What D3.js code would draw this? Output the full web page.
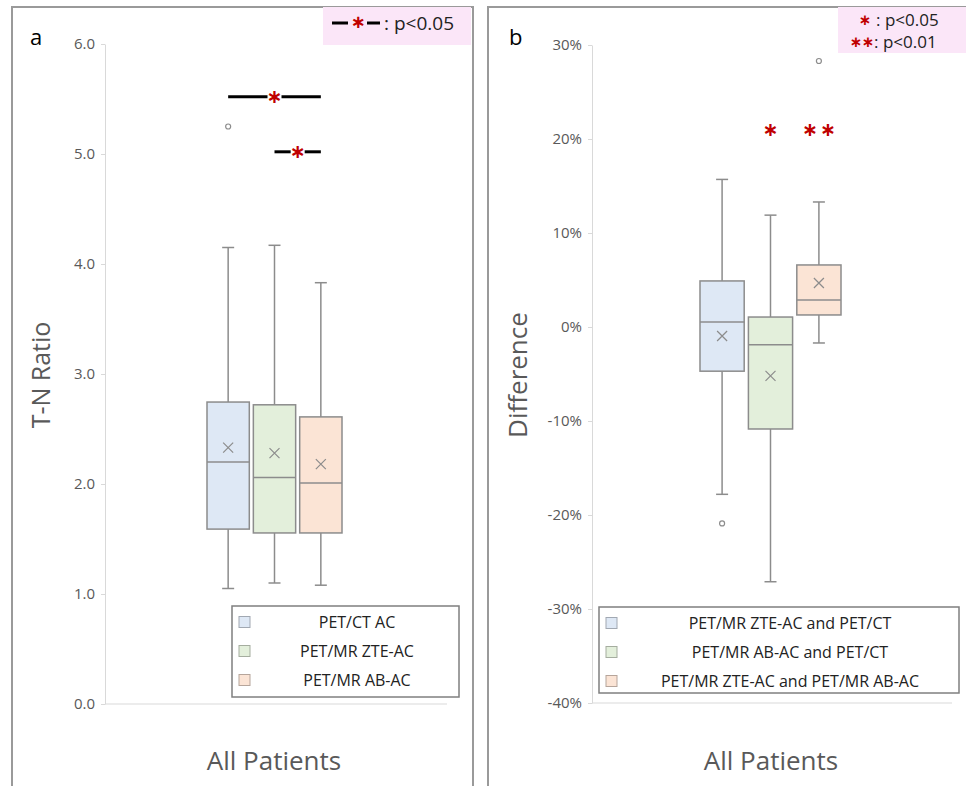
<!DOCTYPE html>
<html>
<head>
<meta charset="utf-8">
<script src="https://cdn.jsdelivr.net/npm/d3@7"></script>
<style>
  body { margin: 0; background: #fff; }
  svg { display: block; font-family: "Open Sans", sans-serif; }
</style>
</head>
<body>
<svg id="chart" width="966" height="786"></svg>
<script>
// panel a : T-N ratio
const groupsA = ["PET/CT AC", "PET/MR ZTE-AC", "PET/MR AB-AC"];
const tnMin = [1.05, 1.10, 1.08];
const tnQ1 = [1.59, 1.555, 1.555];
const tnMedian = [2.20, 2.06, 2.01];
const tnQ3 = [2.745, 2.72, 2.61];
const tnMax = [4.15, 4.17, 3.83];
const tnMean = [2.33, 2.28, 2.18];
const tnOutliers = [[5.25], [], []];
const tnTicks = [0, 1, 2, 3, 4, 5, 6];
const tnSig = [{ from: 0, to: 2, y: 5.52 }, { from: 1, to: 2, y: 5.02 }];

// panel b : difference (%)
const groupsB = ["PET/MR ZTE-AC and PET/CT", "PET/MR AB-AC and PET/CT", "PET/MR ZTE-AC and PET/MR AB-AC"];
const diffMin = [-17.8, -27.1, -1.7];
const diffQ1 = [-4.7, -10.85, 1.28];
const diffMedian = [0.53, -1.9, 2.87];
const diffQ3 = [4.9, 1.06, 6.6];
const diffMax = [15.7, 11.9, 13.3];
const diffMean = [-0.96, -5.2, 4.68];
const diffOutliers = [[-20.9], [], [28.3]];
const diffTicks = [-40, -30, -20, -10, 0, 10, 20, 30];
const diffSig = [{ group: 1, stars: 1, y: 20.9 }, { group: 2, stars: 2, y: 20.9 }];

const fills = ["#dee8f5", "#e3efdb", "#fbe4d5"];
const grey = "#8c8c8c";
const red = "#c00000";
const svg = d3.select("#chart");

function star(g, x, y, size) {
    g.append("text")
        .attr("x", x).attr("y", y + size * 0.3)
        .attr("text-anchor", "middle")
        .attr("font-family", "DejaVu Sans")
        .attr("font-weight", "bold")
        .attr("font-size", size)
        .attr("fill", red)
        .text("\u2217");
}

function drawPanel(p) {
    const g = svg.append("g");

    g.append("rect")
        .attr("x", p.frame[0]).attr("y", 7)
        .attr("width", p.frame[1] - p.frame[0]).attr("height", 790)
        .attr("fill", "none").attr("stroke", "#9a9a9a").attr("stroke-width", 2);

    const y = d3.scaleLinear().domain(p.domain).range([p.yBottom, p.yTop]);
    const x = d3.scaleBand().domain(p.groups).range(p.xRange).paddingInner(0.087);
    const cx = i => x(p.groups[i]) + x.bandwidth() / 2;

    const axis = g.append("g")
        .attr("transform", `translate(${p.axisX},0)`)
        .call(d3.axisLeft(y).tickValues(p.ticks).tickFormat(p.fmt).tickSize(4).tickSizeOuter(0).tickPadding(6));
    axis.select(".domain").attr("stroke", "#d9d9d9");
    axis.selectAll(".tick line").attr("stroke", "#d9d9d9");
    axis.selectAll(".tick text")
        .attr("fill", "#595959")
        .attr("font-family", "Open Sans")
        .attr("font-size", 15);

    g.append("line")
        .attr("x1", p.axisX).attr("x2", p.axisEnd)
        .attr("y1", y(p.domain[0])).attr("y2", y(p.domain[0]))
        .attr("stroke", "#d9d9d9");

    // boxes
    p.groups.forEach((name, i) => {
        const bx = x(name), bw = x.bandwidth(), c = cx(i);
        const box = g.append("g").attr("stroke", grey).attr("stroke-width", 1.5);
        box.append("line").attr("x1", c).attr("x2", c).attr("y1", y(p.max[i])).attr("y2", y(p.q3[i]));
        box.append("line").attr("x1", c).attr("x2", c).attr("y1", y(p.q1[i])).attr("y2", y(p.min[i]));
        box.append("line").attr("x1", c - 6).attr("x2", c + 6).attr("y1", y(p.max[i])).attr("y2", y(p.max[i]));
        box.append("line").attr("x1", c - 6).attr("x2", c + 6).attr("y1", y(p.min[i])).attr("y2", y(p.min[i]));
        box.append("rect")
            .attr("x", bx).attr("y", y(p.q3[i]))
            .attr("width", bw).attr("height", y(p.q1[i]) - y(p.q3[i]))
            .attr("fill", fills[i]);
        box.append("line").attr("x1", bx).attr("x2", bx + bw).attr("y1", y(p.median[i])).attr("y2", y(p.median[i]));
        const my = y(p.mean[i]);
        box.append("path")
            .attr("d", `M${c - 5},${my - 5}L${c + 5},${my + 5}M${c - 5},${my + 5}L${c + 5},${my - 5}`)
            .attr("stroke-width", 1.2);
        p.outliers[i].forEach(v => {
            box.append("circle").attr("cx", c).attr("cy", y(v)).attr("r", 2.5)
                .attr("fill", "#fff").attr("stroke-width", 1.2);
        });
    });

    // legend inside the plot
    const lg = g.append("g");
    lg.append("rect")
        .attr("x", p.legend.x).attr("y", p.legend.y)
        .attr("width", p.legend.w).attr("height", p.legend.h)
        .attr("fill", "#fff").attr("stroke", "#7f7f7f").attr("stroke-width", 1.5);
    p.groups.forEach((name, i) => {
        const ry = p.legend.y + 16 + i * 29;
        lg.append("rect")
            .attr("x", p.legend.x + 7).attr("y", ry - 5.5)
            .attr("width", 11).attr("height", 11)
            .attr("fill", fills[i]).attr("stroke", d3.color(fills[i]).darker(0.9));
        lg.append("text")
            .attr("x", p.legend.tx).attr("y", ry + 5.5)
            .attr("text-anchor", "middle")
            .attr("font-size", 16).attr("fill", "#222")
            .text(name);
    });

    // labels
    g.append("text")
        .attr("x", p.letterX).attr("y", 45)
        .attr("font-size", 22).attr("fill", "#000")
        .text(p.letter);
    g.append("text")
        .attr("transform", `translate(${p.titleX},375) rotate(-90)`)
        .attr("text-anchor", "middle")
        .attr("font-size", p.titleSize).attr("fill", "#595959")
        .text(p.title);
    g.append("text")
        .attr("x", p.xLabelX).attr("y", 770)
        .attr("text-anchor", "middle")
        .attr("font-size", 26).attr("fill", "#595959")
        .text("All Patients");

    return { g, x, y, cx };
}

// panel a
const a = drawPanel({
    frame: [12, 473], groups: groupsA, domain: [0, 6], yBottom: 704, yTop: 44,
    xRange: [207, 342], axisX: 105, axisEnd: 447, ticks: tnTicks, fmt: d3.format(".1f"),
    min: tnMin, q1: tnQ1, median: tnMedian, q3: tnQ3, max: tnMax, mean: tnMean, outliers: tnOutliers,
    legend: { x: 232, y: 606, w: 227, h: 91, tx: 357 },
    letter: "a", letterX: 30, title: "T-N Ratio", titleX: 50, titleSize: 25, xLabelX: 274
});

// significance bars, broken around the star
tnSig.forEach(s => {
    const yy = a.y(s.y), x1 = a.cx(s.from), x2 = a.cx(s.to), m = (x1 + x2) / 2;
    [[x1, m - 7], [m + 7, x2]].forEach(([u, v]) => {
        a.g.append("line").attr("x1", u).attr("x2", v).attr("y1", yy).attr("y2", yy)
            .attr("stroke", "#000").attr("stroke-width", 3);
    });
    star(a.g, m, yy, 19);
});

const keyA = a.g.append("g");
keyA.append("rect").attr("x", 323).attr("y", 7).attr("width", 148).attr("height", 38).attr("fill", "#fbe6f8");
[[332, 348], [367, 380]].forEach(([u, v]) => {
    keyA.append("line").attr("x1", u).attr("x2", v).attr("y1", 23).attr("y2", 23)
        .attr("stroke", "#000").attr("stroke-width", 3);
});
star(keyA, 358, 23, 18);
keyA.append("text").attr("x", 384).attr("y", 30).attr("font-size", 19).attr("fill", "#222").text(": p<0.05");

// panel b
const b = drawPanel({
    frame: [488, 968], groups: groupsB, domain: [-40, 30], yBottom: 703, yTop: 45,
    xRange: [700, 841], axisX: 592, axisEnd: 952, ticks: diffTicks, fmt: d => d + "%",
    min: diffMin, q1: diffQ1, median: diffMedian, q3: diffQ3, max: diffMax, mean: diffMean, outliers: diffOutliers,
    legend: { x: 599, y: 607, w: 360, h: 86, tx: 790 },
    letter: "b", letterX: 509, title: "Difference", titleX: 527, titleSize: 26, xLabelX: 771
});

diffSig.forEach(s => {
    const c = b.cx(s.group), yy = b.y(s.y);
    d3.range(s.stars).forEach(k => star(b.g, c + (k - (s.stars - 1) / 2) * 18, yy, 19));
});

const keyB = b.g.append("g");
keyB.append("rect").attr("x", 838).attr("y", 7).attr("width", 128).attr("height", 46).attr("fill", "#fbe6f8");
star(keyB, 865, 20, 15);
keyB.append("text").attr("x", 876).attr("y", 26).attr("font-size", 17).attr("fill", "#222").text(": p<0.05");
star(keyB, 856, 42, 15);
star(keyB, 868, 42, 15);
keyB.append("text").attr("x", 874).attr("y", 48).attr("font-size", 17).attr("fill", "#222").text(": p<0.01");
</script>
</body>
</html>
